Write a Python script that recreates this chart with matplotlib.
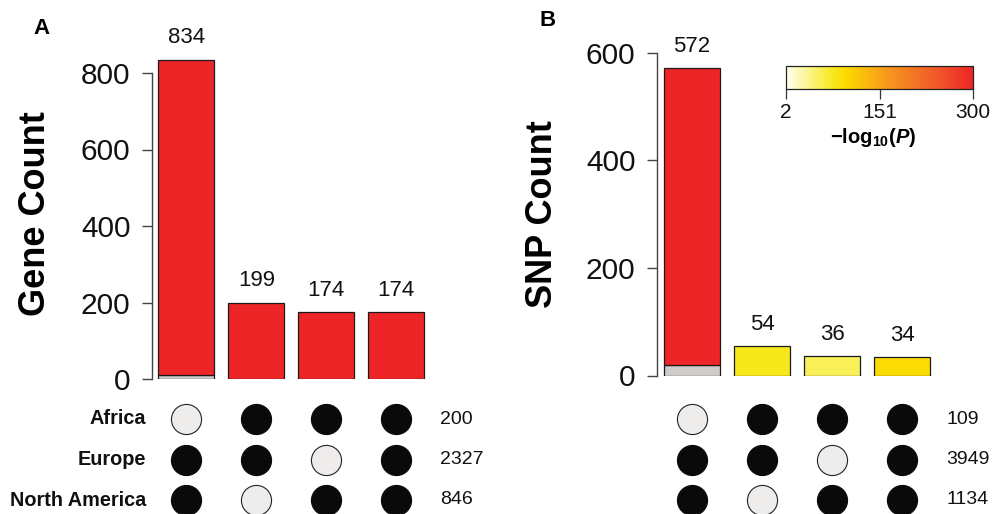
import numpy as np
import matplotlib
matplotlib.use("Agg")
import matplotlib.pyplot as plt
from matplotlib.colors import LinearSegmentedColormap, Normalize
from matplotlib.cm import ScalarMappable

plt.rcParams['font.family'] = ['Liberation Sans', 'DejaVu Sans']
plt.rcParams['mathtext.fontset'] = 'custom'
plt.rcParams['mathtext.rm'] = 'Liberation Sans'
plt.rcParams['mathtext.bf'] = 'Liberation Sans:bold'
plt.rcParams['mathtext.it'] = 'Liberation Sans:italic'
plt.rcParams['mathtext.bfit'] = 'Liberation Sans:bold:italic'

# ---- data ----
populations = ['Africa', 'Europe', 'North America']
# membership of each intersection (columns) in each population (rows)
membership = [
    [0, 1, 1, 1],   # Africa
    [1, 1, 0, 1],   # Europe
    [1, 0, 1, 1],   # North America
]

gene_set_sizes = [200, 2327, 846]
gene_counts = [834, 199, 174, 174]
gene_nonsig = [11, 0, 0, 0]
gene_logp = [300, 300, 300, 300]

snp_set_sizes = [109, 3949, 1134]
snp_counts = [572, 54, 36, 34]
snp_nonsig = [19, 0, 0, 0]
snp_logp = [300, 78, 56, 94]

logp_min, logp_max = 2, 300
cbar_ticks = [2, 151, 300]

# ---- style ----
W, H = 992, 514
cmap = LinearSegmentedColormap.from_list(
    'ylrd', [(0.0, '#FFFFF0'), (0.25, '#F7E91E'), (0.32, '#FCD900'),
             (0.55, '#F7961E'), (0.8, '#F05A28'), (1.0, '#EE2527')])
norm = Normalize(logp_min, logp_max)
gray = '#D0CCCC'
edge = '#1a1a1a'
axis_col = '#444444'

fig = plt.figure(figsize=(W / 100, H / 100), dpi=100)


def px_axes(x0, x1, y_top, y_bot):
    return fig.add_axes([x0 / W, 1 - y_bot / H, (x1 - x0) / W, (y_bot - y_top) / H])


def panel(axis_px, first_center, y0_px, px_per_unit, top_tick, counts, nonsig,
          logp, set_sizes, ylabel, letter, letter_xy, ylabel_x, label_off,
          right_px):
    spacing = 70.0
    # bar axes, data x = intersection index
    ax = px_axes(axis_px, right_px, 5, y0_px)
    ax.set_xlim((axis_px - first_center) / spacing, (right_px - first_center) / spacing)
    ax.set_ylim(0, (y0_px - 5) / px_per_unit)
    x = np.arange(len(counts))
    counts = np.array(counts)
    nonsig = np.array(nonsig)
    colors = [cmap(norm(v)) for v in logp]
    ax.bar(x, nonsig, width=0.8, color=gray, edgecolor=edge, linewidth=0.9, zorder=2)
    ax.bar(x, counts - nonsig, bottom=nonsig, width=0.8, color=colors,
           edgecolor=edge, linewidth=0.9, zorder=2)
    for xi, c in zip(x, counts):
        ax.annotate(str(c), (xi, c), xytext=(0, label_off), textcoords='offset points',
                    ha='center', va='baseline', fontsize=16, color='#111111')
    for s in ['top', 'right', 'bottom']:
        ax.spines[s].set_visible(False)
    ax.spines['left'].set_bounds(0, top_tick)
    ax.spines['left'].set_color(axis_col)
    ax.spines['left'].set_linewidth(1.0)
    ax.set_yticks(np.arange(0, top_tick + 1, 200))
    ax.tick_params(axis='y', length=7.5, width=1.0, color=axis_col, pad=8,
                   labelsize=21.5, labelcolor='#111111')
    ax.set_xticks([])
    ax.patch.set_alpha(0)
    fig.text(ylabel_x / W, 1 - 214 / H, ylabel, rotation=90, ha='center', va='center',
             fontsize=26, fontweight='bold')
    fig.text(letter_xy[0] / W, 1 - letter_xy[1] / H, letter, ha='center', va='center',
             fontsize=16, fontweight='bold')

    # dot matrix
    dax = px_axes(axis_px, right_px, 395, H)
    dax.set_xlim((axis_px - first_center) / spacing, (right_px - first_center) / spacing)
    row_px = 40.5
    dax.set_ylim((H - 419) / row_px, (395 - 419) / row_px)
    dax.axis('off')
    for r, pop in enumerate(populations):
        for c in range(len(counts)):
            on = membership[r][c]
            dax.scatter(c, r, s=470, marker='o',
                        facecolor='#0a0a0a' if on else '#EFECEC',
                        edgecolor='#0a0a0a' if on else '#222222',
                        linewidth=0.8, zorder=3, clip_on=False)
        dax.text(254 / spacing, r, str(set_sizes[r]),
                 ha='left', va='center', fontsize=14, color='#111111', clip_on=False)
    return ax, dax


axA, daxA = panel(152, 186.3, 379, 0.3825, 800, gene_counts, gene_nonsig, gene_logp,
                  gene_set_sizes, 'Gene Count', 'A', (42, 29), 36, 12, 450)
for r, pop in enumerate(populations):
    daxA.text((146 - 186.3) / 70.0, r, pop, ha='right', va='center', fontsize=14.3,
              fontweight='bold', color='#111111', clip_on=False)

axB, daxB = panel(657, 692.0, 375.5, 0.5383, 600, snp_counts, snp_nonsig, snp_logp,
                  snp_set_sizes, 'SNP Count', 'B', (548, 21), 543, 11.5, 990)

# colour key for -log10(P)
cax = px_axes(786, 973, 66, 89)
sm = ScalarMappable(norm=norm, cmap=cmap)
cb = fig.colorbar(sm, cax=cax, orientation='horizontal', ticks=cbar_ticks)
cb.outline.set_linewidth(0.9)
cb.outline.set_edgecolor('#222222')
cax.tick_params(axis='x', length=7, width=0.9, color='#333333', pad=3,
                labelsize=15, labelcolor='#111111')
cax.set_xticklabels([str(t) for t in cbar_ticks])
fig.text(873 / W, 1 - 138 / H,
         r'$\mathbf{-log}_{\mathbf{10}}\mathbf{(}\mathbfit{P}\mathbf{)}$',
         ha='center', va='center', fontsize=14.5)

fig.savefig('out.png', dpi=100)
